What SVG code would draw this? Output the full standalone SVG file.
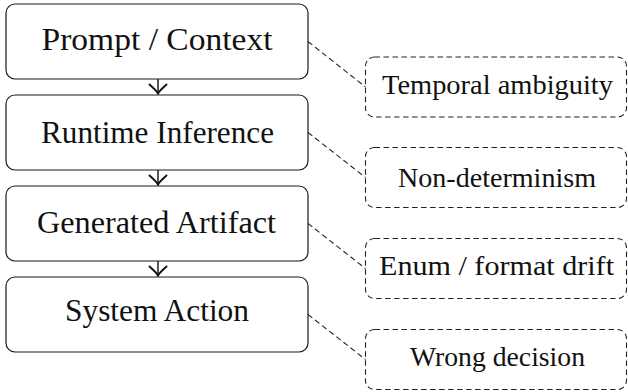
<svg xmlns="http://www.w3.org/2000/svg" xmlns:xlink="http://www.w3.org/1999/xlink" width="628" height="392" viewBox="0 0 628 392">
  <defs>
    <style>
      .stage rect { fill: #ffffff; stroke: #1a1a1a; stroke-width: 1.2; }
      .risk rect { fill: #ffffff; stroke: #222222; stroke-width: 1.1; stroke-dasharray: 5.5 3.5; }
      .flow { stroke: #111111; stroke-width: 1.4; fill: none; }
      .link { stroke: #222222; stroke-width: 1.1; stroke-dasharray: 5.5 3.5; fill: none; }
      .head { fill: none; stroke: #111111; stroke-width: 1.9; stroke-linecap: round; }
    </style>
    <!-- open "to"-style arrowhead, tip at the origin, pointing down -->
    <path id="head" class="head" d="M-8.5,-9 C-4,-5 -1,-2 0,0 C1,-2 4,-5 8.5,-9"/>
  </defs>

  <!-- pipeline stages -->
  <g id="prompt" class="stage">
    <rect x="6" y="4" width="302" height="75" rx="9"/>
    <text x="157" y="50" textLength="231" lengthAdjust="spacingAndGlyphs" style="font-family: 'Liberation Serif', serif; font-size: 32px; fill: #111111; text-anchor: middle">Prompt / Context</text>
  </g>
  <g id="inference" class="stage">
    <rect x="6" y="95" width="302" height="75" rx="9"/>
    <text x="157.5" y="143" textLength="233" lengthAdjust="spacingAndGlyphs" style="font-family: 'Liberation Serif', serif; font-size: 32px; fill: #111111; text-anchor: middle">Runtime Inference</text>
  </g>
  <g id="artifact" class="stage">
    <rect x="6" y="186" width="302" height="75" rx="9"/>
    <text x="156.5" y="233" textLength="239" lengthAdjust="spacingAndGlyphs" style="font-family: 'Liberation Serif', serif; font-size: 32px; fill: #111111; text-anchor: middle">Generated Artifact</text>
  </g>
  <g id="action" class="stage">
    <rect x="6" y="277" width="302" height="75" rx="9"/>
    <text x="157" y="321" textLength="184" lengthAdjust="spacingAndGlyphs" style="font-family: 'Liberation Serif', serif; font-size: 32px; fill: #111111; text-anchor: middle">System Action</text>
  </g>

  <!-- failure modes -->
  <g id="temporal" class="risk">
    <rect x="365.5" y="57" width="261" height="60" rx="9"/>
    <text x="497.5" y="94" textLength="231" lengthAdjust="spacingAndGlyphs" style="font-family: 'Liberation Serif', serif; font-size: 27.5px; fill: #111111; text-anchor: middle">Temporal ambiguity</text>
  </g>
  <g id="nondeterminism" class="risk">
    <rect x="365.5" y="147.5" width="261" height="60" rx="9"/>
    <text x="497" y="187" textLength="198" lengthAdjust="spacingAndGlyphs" style="font-family: 'Liberation Serif', serif; font-size: 27.5px; fill: #111111; text-anchor: middle">Non-determinism</text>
  </g>
  <g id="drift" class="risk">
    <rect x="365.5" y="238.5" width="261" height="60" rx="9"/>
    <text x="496.5" y="275" textLength="235" lengthAdjust="spacingAndGlyphs" style="font-family: 'Liberation Serif', serif; font-size: 27.5px; fill: #111111; text-anchor: middle">Enum / format drift</text>
  </g>
  <g id="decision" class="risk">
    <rect x="365.5" y="329.5" width="261" height="60" rx="9"/>
    <text x="497.5" y="366" textLength="175" lengthAdjust="spacingAndGlyphs" style="font-family: 'Liberation Serif', serif; font-size: 27.5px; fill: #111111; text-anchor: middle">Wrong decision</text>
  </g>

  <!-- connectors -->
  <g id="connectors">
    <line class="flow" x1="158" y1="79" x2="158" y2="94"/>
    <use xlink:href="#head" x="158" y="93.5"/>
    <line class="flow" x1="158" y1="170" x2="158" y2="185"/>
    <use xlink:href="#head" x="158" y="184.5"/>
    <line class="flow" x1="158" y1="261" x2="158" y2="276"/>
    <use xlink:href="#head" x="158" y="275.5"/>
    <line class="link" x1="308" y1="41.5" x2="365.5" y2="87"/>
    <line class="link" x1="308" y1="132.5" x2="365.5" y2="177.5"/>
    <line class="link" x1="308" y1="223.5" x2="365.5" y2="268.5"/>
    <line class="link" x1="308" y1="314.5" x2="365.5" y2="359.5"/>
  </g>
</svg>
